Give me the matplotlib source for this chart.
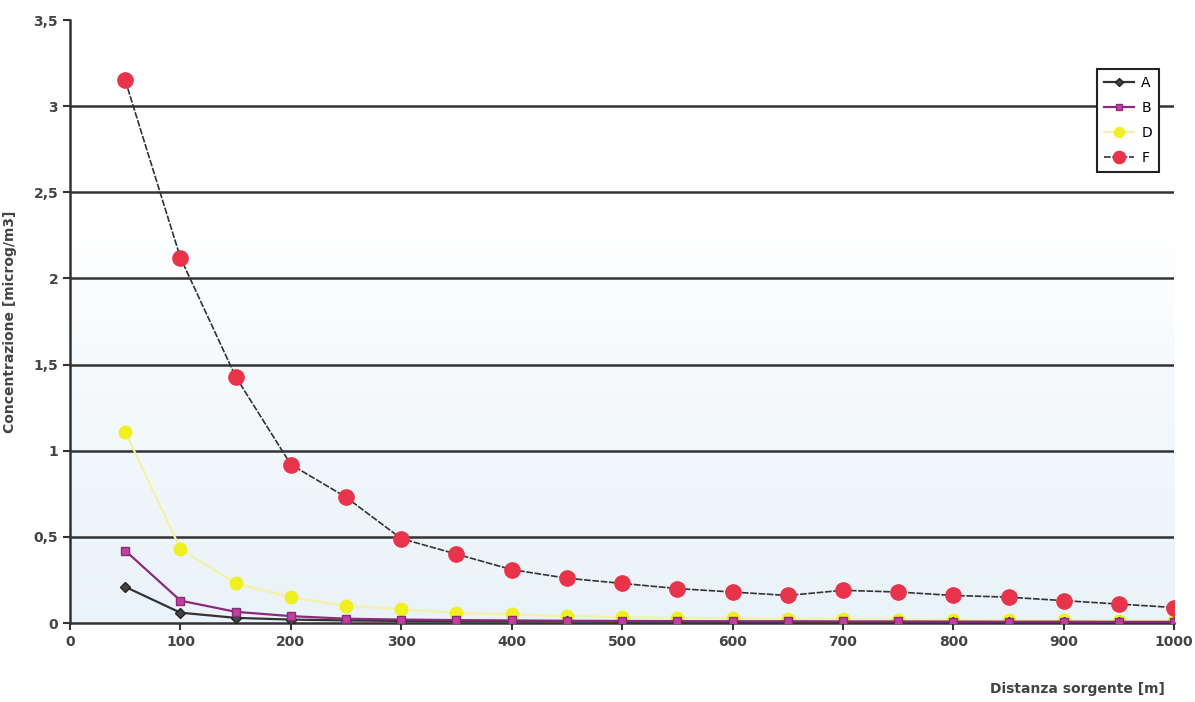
import numpy as np
import matplotlib
matplotlib.use("Agg")
import matplotlib.pyplot as plt
from matplotlib.ticker import FuncFormatter

# distanza dalla sorgente [m]
distanza = [50, 100, 150, 200, 250, 300, 350, 400, 450, 500,
            550, 600, 650, 700, 750, 800, 850, 900, 950, 1000]

# concentrazioni [microg/m3] per classe di stabilita'
conc_a = [0.21, 0.06, 0.03, 0.02, 0.015, 0.012, 0.01, 0.01, 0.01, 0.008,
          0.008, 0.007, 0.007, 0.006, 0.006, 0.006, 0.005, 0.005, 0.005, 0.005]
conc_b = [0.42, 0.13, 0.065, 0.04, 0.025, 0.02, 0.017, 0.015, 0.013, 0.012,
          0.011, 0.01, 0.01, 0.009, 0.009, 0.008, 0.008, 0.008, 0.007, 0.007]
conc_d = [1.11, 0.43, 0.23, 0.15, 0.10, 0.08, 0.06, 0.05, 0.04, 0.035,
          0.03, 0.028, 0.025, 0.022, 0.02, 0.018, 0.016, 0.015, 0.014, 0.013]
conc_f = [3.15, 2.12, 1.43, 0.92, 0.73, 0.49, 0.40, 0.31, 0.26, 0.23,
          0.20, 0.18, 0.16, 0.19, 0.18, 0.16, 0.15, 0.13, 0.11, 0.09]

fig = plt.figure(figsize=(11.95, 7.02), dpi=100)
ax = fig.add_axes([0.0586, 0.1125, 0.924, 0.859])

# sfondo: bianco in alto, azzurrino in basso
grad = np.linspace(0, 1, 256).reshape(-1, 1)
cmap = matplotlib.colors.LinearSegmentedColormap.from_list(
    "bg", ["#eaf3f9", "#f3f8fb", "#ffffff", "#ffffff"])
ax.imshow(grad, extent=[0, 1000, 0, 3.5], aspect="auto", origin="lower",
          cmap=cmap, zorder=0)

for y in np.arange(0.5, 3.01, 0.5):
    ax.axhline(y, color="#333333", lw=1.8, zorder=1)

ax.plot(distanza, conc_a, color="#333333", lw=1.6, marker="D", ms=5,
        mfc="#444444", mec="#222222", label="A", zorder=3)
ax.plot(distanza, conc_b, color="#8a2a7a", lw=1.6, marker="s", ms=6,
        mfc="#c040a0", mec="#8a2a7a", label="B", zorder=3)
ax.plot(distanza, conc_d, color="#f2f2a8", lw=1.6, marker="o", ms=9,
        mfc="#f0f020", mec="#f0f020", label="D", zorder=2)
ax.plot(distanza, conc_f, color="#333333", lw=1.2, ls=(0, (4, 1)),
        marker="o", ms=11, mfc="#e8344a", mec="#e8344a", label="F", zorder=4)

ax.set_xlim(0, 1000)
ax.set_ylim(0, 3.5)
ax.set_xticks(np.arange(0, 1001, 100))
ax.set_yticks(np.arange(0, 3.51, 0.5))
ax.yaxis.set_major_formatter(FuncFormatter(
    lambda v, p: ("%g" % v).replace(".", ",")))

for s in ["top", "right"]:
    ax.spines[s].set_visible(False)
for s in ["left", "bottom"]:
    ax.spines[s].set_color("#333333")
    ax.spines[s].set_linewidth(1.8)
ax.tick_params(axis="both", colors="#333333", labelcolor="#444444",
               labelsize=10, width=1.5, length=5)
for lab in ax.get_xticklabels() + ax.get_yticklabels():
    lab.set_fontweight("bold")

ax.set_ylabel("Concentrazione [microg/m3]", fontsize=10, fontweight="bold",
              color="#444444", labelpad=12)
fig.text(0.975, 0.008, "Distanza sorgente [m]", ha="right", va="bottom",
         fontsize=10, fontweight="bold", color="#444444")

leg = ax.legend(loc="upper left", bbox_to_anchor=(0.912, 0.912),
                bbox_transform=fig.transFigure, frameon=True, fancybox=False,
                fontsize=10, handlelength=2.2, borderpad=0.5,
                labelspacing=0.8, handletextpad=0.5, markerscale=0.8)
leg.get_frame().set_edgecolor("#222222")
leg.get_frame().set_linewidth(1.5)
leg.get_frame().set_facecolor("white")
leg.get_frame().set_alpha(1)

fig.savefig("out.png", dpi=100)
